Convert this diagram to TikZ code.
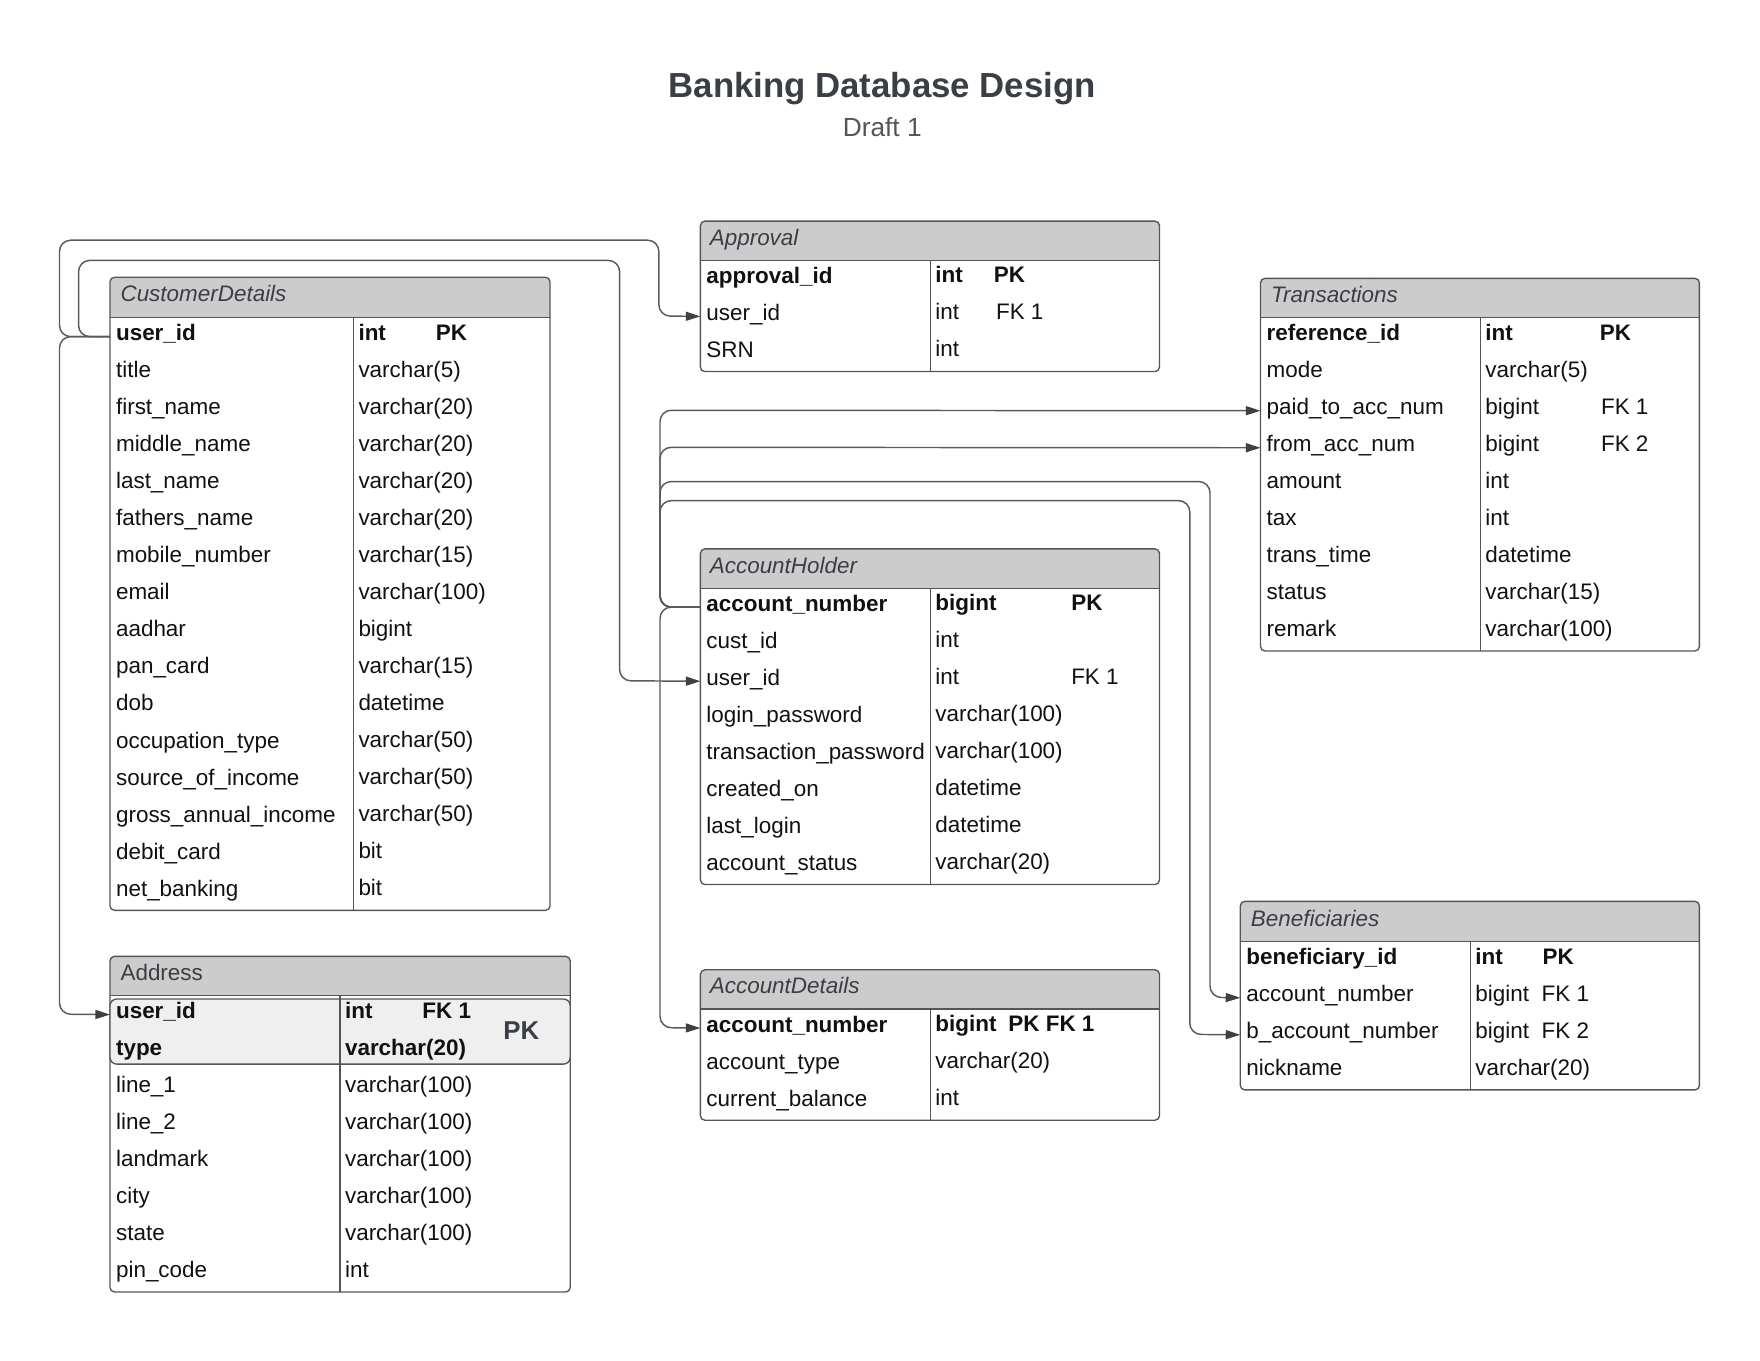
\documentclass[tikz,border=0pt]{standalone}
\usepackage{fontspec}
\setmainfont{Liberation Sans}
\usetikzlibrary{arrows.meta}
\definecolor{hdr}{HTML}{CCCCCC}
\definecolor{framecol}{HTML}{555555}
\definecolor{conncol}{HTML}{5A5A5A}
\definecolor{tipcol}{HTML}{404040}
\definecolor{txt}{HTML}{111111}
\definecolor{ttl}{HTML}{3A3F45}
\definecolor{subttl}{HTML}{555555}
\definecolor{pkfill}{HTML}{EFEFEF}
\newcommand\bodyfont{\fontsize{10}{12}\selectfont}
\newcommand\hdrbox[6]{%
  \begin{scope}
    \clip[rounded corners=2pt] (#1,#2) rectangle (#3,#4);
    \fill[hdr] (#1,#2) rectangle (#3,#5);
  \end{scope}
  \draw[tframe] (#1,#5) -- (#3,#5);
  \draw[tframe] (#6,#5) -- (#6,#4);
  \draw[tframe, rounded corners=2pt] (#1,#2) rectangle (#3,#4);
}
\tikzset{
  tframe/.style={draw=framecol, line width=0.6pt},
  fcell/.style={anchor=north west, inner xsep=2.5pt, inner ysep=0pt,
    text height=10pt, text depth=6.5pt, align=left, text width=#1,
    font=\bodyfont, text=txt},
  tcell/.style={anchor=base west, inner sep=0pt, font=\bodyfont, text=txt},
  htitle/.style={anchor=base west, inner sep=0pt, font=\bodyfont, text=ttl},
  conn/.style={draw=conncol, line width=0.65pt, rounded corners=5pt,
    -{Triangle[length=6.5pt,width=4pt,color=tipcol]}},
}
\begin{document}
\begin{tikzpicture}[x=0.5pt,y=-0.5pt]
\useasboundingbox (0,0) rectangle (1568,1212);

% Title
\node[anchor=base, inner sep=0pt, font=\fontsize{15.5}{18}\selectfont\bfseries, text=ttl] (title) at (786,87) {Banking Database Design};
\node[anchor=base, inner sep=0pt, font=\fontsize{11.7}{14}\selectfont, text=subttl] (subtitle) at (786,122) {Draft 1};

% ---------------- CustomerDetails
\hdrbox{98}{247}{490}{811}{283}{315}
\node[htitle] (cdT) at (107,268.5) {\itshape CustomerDetails};
\node[fcell=103.5pt] (cd0) at (98,283) {\bfseries user\_id};
\node[tcell] at (319,303) {\bfseries int};
\node[tcell] at (388,303) {\bfseries PK};
\foreach [count=\i] \f/\t in {title/varchar(5), first\_name/varchar(20), middle\_name/varchar(20),
  last\_name/varchar(20), fathers\_name/varchar(20), mobile\_number/varchar(15), email/varchar(100),
  aadhar/bigint, pan\_card/varchar(15), dob/datetime, occupation\_type/varchar(50),
  source\_of\_income/varchar(50), gross\_annual\_income/varchar(50), debit\_card/bit, net\_banking/bit} {
  \node[fcell=103.5pt] (cd\i) at (98,283+33*\i) {\mbox{\f}};
  \node[tcell] at (319,303+33*\i) {\t};
}

% ---------------- Approval
\hdrbox{624}{197}{1033}{331}{232}{829}
\node[htitle] (apT) at (632,218.5) {\itshape Approval};
\node[fcell=97.5pt] (ap0) at (624,232) {\bfseries approval\_id};
\node[tcell] at (833,252) {\bfseries int};
\node[tcell] at (885,252) {\bfseries PK};
\node[fcell=97.5pt] (ap1) at (624,265) {user\_id};
\node[tcell] at (833,285) {int};
\node[tcell] at (887,285) {FK 1};
\node[fcell=97.5pt] (ap2) at (624,298) {SRN};
\node[tcell] at (833,318) {int};

% ---------------- Transactions
\hdrbox{1123}{248}{1514}{580}{283}{1319}
\node[htitle] (trT) at (1132,269.5) {\itshape Transactions};
\node[fcell=93pt] (tr0) at (1123,283) {\bfseries reference\_id};
\node[tcell] at (1323,303) {\bfseries int};
\node[tcell] at (1425,303) {\bfseries PK};
\foreach [count=\i] \f/\t in {mode/varchar(5), paid\_to\_acc\_num/bigint, from\_acc\_num/bigint,
  amount/int, tax/int, trans\_time/datetime, status/varchar(15), remark/varchar(100)} {
  \node[fcell=93pt] (tr\i) at (1123,283+33*\i) {\mbox{\f}};
  \node[tcell] at (1323,303+33*\i) {\t};
}
\node[tcell] at (1426,369) {FK 1};
\node[tcell] at (1426,402) {FK 2};

% ---------------- AccountHolder
\hdrbox{624}{489}{1033}{788}{524}{829}
\node[htitle] (ahT) at (632,510.5) {\itshape AccountHolder};
\node[fcell=97.5pt] (ah0) at (624,524) {\bfseries account\_number};
\node[tcell] at (833,544) {\bfseries bigint};
\node[tcell] at (954,544) {\bfseries PK};
\foreach [count=\i] \f/\t in {cust\_id/int, user\_id/int, login\_password/varchar(100),
  transaction\_password/varchar(100), created\_on/datetime, last\_login/datetime,
  account\_status/varchar(20)} {
  \node[fcell=97.5pt] (ah\i) at (624,524+33*\i) {\mbox{\f}};
  \node[tcell] at (833,544+33*\i) {\t};
}
\node[tcell] at (954,610) {FK 1};

% ---------------- AccountDetails
\hdrbox{624}{864}{1033}{998}{899}{829}
\node[htitle] (acT) at (632,885.5) {\itshape AccountDetails};
\node[fcell=97.5pt] (acd0) at (624,899) {\bfseries account\_number};
\node[tcell] at (833,919) {\bfseries bigint};
\node[tcell] at (898,919) {\bfseries PK FK 1};
\node[fcell=97.5pt] (acd1) at (624,932) {account\_type};
\node[tcell] at (833,952) {varchar(20)};
\node[fcell=97.5pt] (acd2) at (624,965) {current\_balance};
\node[tcell] at (833,985) {int};

% ---------------- Beneficiaries
\hdrbox{1105}{803}{1514}{971}{839}{1310}
\node[htitle] (bfT) at (1114,825) {\itshape Beneficiaries};
\node[fcell=97.5pt] (bf0) at (1105,839) {\bfseries beneficiary\_id};
\node[tcell] at (1314,859) {\bfseries int};
\node[tcell] at (1374,859) {\bfseries PK};
\node[fcell=97.5pt] (bf1) at (1105,872) {account\_number};
\node[tcell] at (1314,892) {bigint};
\node[tcell] at (1373,892) {FK 1};
\node[fcell=97.5pt] (bf2) at (1105,905) {b\_account\_number};
\node[tcell] at (1314,925) {bigint};
\node[tcell] at (1373,925) {FK 2};
\node[fcell=97.5pt] (bf3) at (1105,938) {nickname};
\node[tcell] at (1314,958) {varchar(20)};

% ---------------- Address
\hdrbox{98}{852}{508}{1151}{887}{303}
\draw[tframe, fill=pkfill, rounded corners=3pt] (98,890) rectangle (508,948);
\draw[tframe] (303,887) -- (303,1151);
\node[htitle] (adT) at (107,873.5) {Address};
\node[fcell=97.5pt] (adr0) at (98,887) {\bfseries user\_id};
\node[tcell] at (307,907) {\bfseries int};
\node[tcell] at (376,907) {\bfseries FK 1};
\node[fcell=97.5pt] (adr1) at (98,920) {\bfseries type};
\node[tcell] at (307,940) {\bfseries varchar(20)};
\node[anchor=base west, inner sep=0pt, font=\fontsize{11.5}{14}\selectfont\bfseries, text=ttl] (adPK) at (448,926) {PK};
\foreach [count=\i from 2] \f/\t in {line\_1/varchar(100), line\_2/varchar(100), landmark/varchar(100),
  city/varchar(100), state/varchar(100), pin\_code/int} {
  \node[fcell=97.5pt] (adr\i) at (98,887+33*\i) {\mbox{\f}};
  \node[tcell] at (307,907+33*\i) {\t};
}

% ---------------- Connectors
\draw[conn] (cd0.west) -| (53,214) -| (587,281.5) -- (ap1.west);
\draw[conn] (cd0.west) -| (70,232) -| (552,606.5) -- (ah2.west);
\draw[conn] (cd0.west) -| (53,903.5) -- (adr0.west);

\draw[conn] (ah0.west) -| (588,365.5) -- (tr2.west);
\draw[conn] (ah0.west) -| (588,398.5) -- (tr3.west);
\draw[conn] (ah0.west) -| (588,429) -| (1078,888.5) -- (bf1.west);
\draw[conn] (ah0.west) -| (588,446) -| (1060,921.5) -- (bf2.west);
\draw[conn] (ah0.west) -| (588,915.5) -- (acd0.west);
\end{tikzpicture}
\end{document}
